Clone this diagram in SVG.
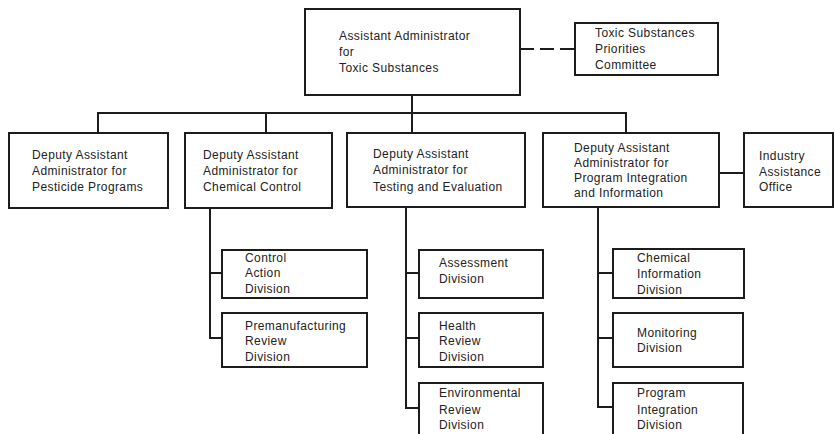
<svg xmlns="http://www.w3.org/2000/svg" width="835" height="434" viewBox="0 0 835 434">
<style>
.box{fill:#fff;stroke:#1c1c1c;stroke-width:2}
.ln{fill:none;stroke:#1c1c1c;stroke-width:2}
.dash{fill:none;stroke:#1c1c1c;stroke-width:2;stroke-dasharray:14 6}
text{font-family:"Liberation Sans",Arial,sans-serif;font-size:12px;letter-spacing:0.4px;fill:#222}
</style>
<rect width="835" height="434" fill="#fff"/>
<g id="connectors">
<path class="ln" d="M412 95V133M98 133V113H626V133M266 113V133"/>
<path class="dash" d="M520 49H575"/>
<path class="ln" d="M719 173H744"/>
<path class="ln" d="M210 208V338H222M210 273H222"/>
<path class="ln" d="M406 207V408H419M406 273H419M406 338H419"/>
<path class="ln" d="M598 207V407H613M598 273H613M598 338H613"/>
</g>
<g id="aa">
<rect class="box" x="305" y="9" width="215" height="86"/>
<text x="339" y="40">Assistant Administrator</text>
<text x="339" y="56">for</text>
<text x="339" y="72">Toxic Substances</text>
</g>
<g id="tspc">
<rect class="box" x="575" y="23" width="143" height="52"/>
<text x="595" y="37">Toxic Substances</text>
<text x="595" y="53">Priorities</text>
<text x="595" y="69">Committee</text>
</g>
<g id="pesticide">
<rect class="box" x="9" y="133" width="159" height="75"/>
<text x="32" y="159">Deputy Assistant</text>
<text x="32" y="175">Administrator for</text>
<text x="32" y="191">Pesticide Programs</text>
</g>
<g id="chemical">
<rect class="box" x="185" y="133" width="147" height="75"/>
<text x="203" y="159">Deputy Assistant</text>
<text x="203" y="175">Administrator for</text>
<text x="203" y="191">Chemical Control</text>
</g>
<g id="testing">
<rect class="box" x="347" y="133" width="178" height="74"/>
<text x="373" y="158">Deputy Assistant</text>
<text x="373" y="174">Administrator for</text>
<text x="373" y="191">Testing and Evaluation</text>
</g>
<g id="program">
<rect class="box" x="543" y="133" width="176" height="74"/>
<text x="574" y="152">Deputy Assistant</text>
<text x="574" y="167">Administrator for</text>
<text x="574" y="182">Program Integration</text>
<text x="574" y="197">and Information</text>
</g>
<g id="industry">
<rect class="box" x="744" y="133" width="89" height="74"/>
<text x="759" y="160">Industry</text>
<text x="759" y="176">Assistance</text>
<text x="759" y="191">Office</text>
</g>
<g id="control-action">
<rect class="box" x="222" y="250" width="145" height="48"/>
<text x="245" y="262">Control</text>
<text x="245" y="277">Action</text>
<text x="245" y="293">Division</text>
</g>
<g id="premanufacturing">
<rect class="box" x="222" y="313" width="145" height="54"/>
<text x="245" y="330">Premanufacturing</text>
<text x="245" y="345">Review</text>
<text x="245" y="361">Division</text>
</g>
<g id="assessment">
<rect class="box" x="419" y="250" width="124" height="48"/>
<text x="439" y="267">Assessment</text>
<text x="439" y="283">Division</text>
</g>
<g id="health">
<rect class="box" x="419" y="313" width="124" height="54"/>
<text x="439" y="330">Health</text>
<text x="439" y="345">Review</text>
<text x="439" y="361">Division</text>
</g>
<g id="environmental">
<rect class="box" x="419" y="383" width="124" height="54"/>
<text x="439" y="397">Environmental</text>
<text x="439" y="414">Review</text>
<text x="439" y="429">Division</text>
</g>
<g id="chem-info">
<rect class="box" x="613" y="249" width="131" height="49"/>
<text x="637" y="262">Chemical</text>
<text x="637" y="278">Information</text>
<text x="637" y="294">Division</text>
</g>
<g id="monitoring">
<rect class="box" x="613" y="313" width="130" height="54"/>
<text x="637" y="337">Monitoring</text>
<text x="637" y="352">Division</text>
</g>
<g id="prog-integration">
<rect class="box" x="613" y="383" width="130" height="54"/>
<text x="637" y="397">Program</text>
<text x="637" y="414">Integration</text>
<text x="637" y="429">Division</text>
</g>
</svg>
